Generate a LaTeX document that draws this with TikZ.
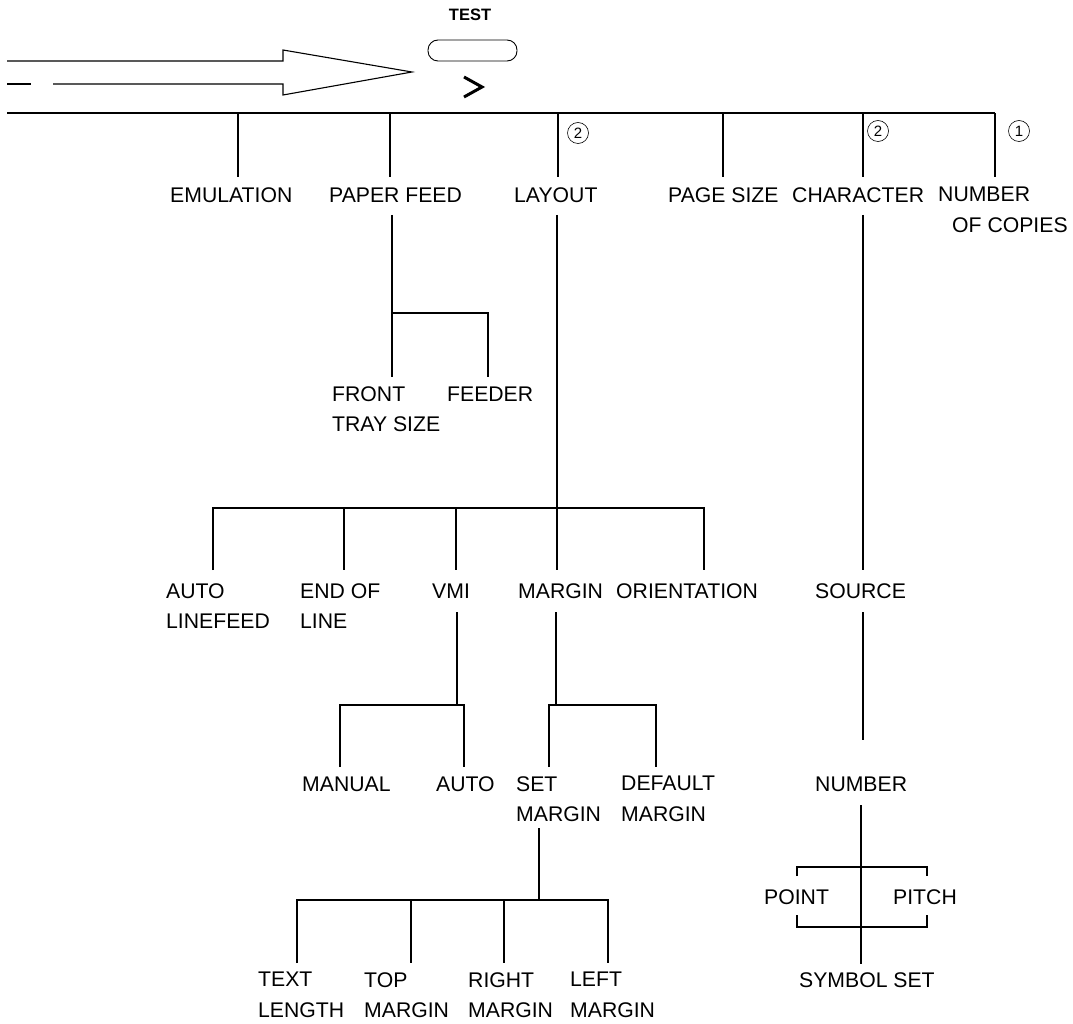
\documentclass[tikz,border=0pt]{standalone}
\usepackage{fontspec}
\setmainfont{Liberation Sans}
\begin{document}
\begin{tikzpicture}[x=1pt,y=-1pt,
  lbl/.style={anchor=west,inner sep=0pt,align=left,font=\fontsize{21.2}{30.5}\selectfont},
  ln/.style={line width=1.1pt},
  circnum/.style={circle,draw,line width=0.6pt,inner sep=0pt,minimum size=21pt,font=\fontsize{15}{15}\selectfont}]
\useasboundingbox (0,0) rectangle (1073,1024);

% ---------- top: arrow, TEST key ----------
\node[inner sep=0pt,font=\bfseries\fontsize{16.5}{16.5}\selectfont] (test) at (470,15) {TEST};
\node[draw,line width=0.9pt,rounded corners=10pt,minimum width=89pt,minimum height=21pt,inner sep=0pt] (key) at (472.5,50.5) {};
\coordinate (chev) at (473,87);
\draw[line width=3pt] ([shift={(-9,-10)}]chev) -- ([shift={(9,0)}]chev) -- ([shift={(-9,10)}]chev);
\coordinate (arrtip) at (412,72);
\draw[ln] (7,61) -- (283,61) -- (283,50) -- (arrtip) -- (283,95) -- (283,84) -- (53,84);
\draw[ln] (7,84) -- (31,84);

% ---------- labels ----------
\node[lbl] (emu) at (170,195) {EMULATION};
\node[lbl] (pf)  at (329,195) {PAPER FEED};
\node[lbl] (lay) at (514,195) {LAYOUT};
\node[lbl] (ps)  at (668,195) {PAGE SIZE};
\node[lbl] (chr) at (792,195) {CHARACTER};
\node[lbl] (noc) at (938,210) {NUMBER\\\hspace*{14pt}OF COPIES};

\node[lbl] (front) at (332,409) {FRONT\\TRAY SIZE};
\node[lbl] (feed)  at (447,394) {FEEDER};

\node[lbl] (alf) at (166,606) {AUTO\\LINEFEED};
\node[lbl] (eol) at (300,606) {END OF\\LINE};
\node[lbl] (vmi) at (432,591) {VMI};
\node[lbl] (mar) at (518,591) {MARGIN};
\node[lbl] (ori) at (616,591) {ORIENTATION};
\node[lbl] (src) at (815,591) {SOURCE};

\node[lbl] (man)  at (302,784) {MANUAL};
\node[lbl] (auto) at (436,784) {AUTO};
\node[lbl] (setm) at (516,799) {SET\\MARGIN};
\node[lbl] (defm) at (621,799) {DEFAULT\\MARGIN};
\node[lbl] (num)  at (815,784) {NUMBER};

\node[lbl] (point) at (764,897) {POINT};
\node[lbl] (pitch) at (893,897) {PITCH};
\node[lbl] (sym)   at (799,980) {SYMBOL SET};

\node[lbl] (tl) at (258,995) {TEXT\\LENGTH};
\node[lbl] (tm) at (364,995) {TOP\\MARGIN};
\node[lbl] (rm) at (468,995) {RIGHT\\MARGIN};
\node[lbl] (lm) at (570,995) {LEFT\\MARGIN};

% circled numbers
\node[circnum] (c2a) at (578,133) {2};
\node[circnum] (c2b) at (878,131) {2};
\node[circnum] (c1)  at (1019,131) {1};

% ---------- main bar ----------
\coordinate (mainL) at (7,113);
\coordinate (mainR) at (995,113);
\draw[ln] (mainL) -- (mainR);
\foreach \x in {238,390,558,723,863,995}
  \draw[ln] (\x,113) -- (\x,177);

% ---------- paper feed ----------
\draw[ln] (392,215) -- (392,313) -- (392,377);
\draw[ln] (392,313) -- (488,313) -- (488,377);

% ---------- layout ----------
\draw[ln] (557,215) -- (557,508);
\draw[ln] (213,570) -- (213,508) -- (704,508) -- (704,570);
\foreach \x in {344,456,557}
  \draw[ln] (\x,508) -- (\x,570);

% ---------- character ----------
\draw[ln] (863,215) -- (863,570);
\draw[ln] (863,612) -- (863,740);

% ---------- VMI ----------
\draw[ln] (457,612) -- (457,705);
\draw[ln] (340,767) -- (340,705) -- (464,705) -- (464,767);

% ---------- margin ----------
\draw[ln] (556,612) -- (556,705);
\draw[ln] (549,767) -- (549,705) -- (656,705) -- (656,767);

% ---------- set margin ----------
\draw[ln] (539,828) -- (539,900);
\draw[ln] (297,963) -- (297,900) -- (608,900) -- (608,963);
\foreach \x in {411,504}
  \draw[ln] (\x,900) -- (\x,963);

% ---------- number ----------
\draw[ln] (861,805) -- (861,964);
\draw[ln] (797,876) -- (797,867) -- (927,867) -- (927,876);
\draw[ln] (797,915) -- (797,927) -- (927,927) -- (927,915);
\end{tikzpicture}
\end{document}
